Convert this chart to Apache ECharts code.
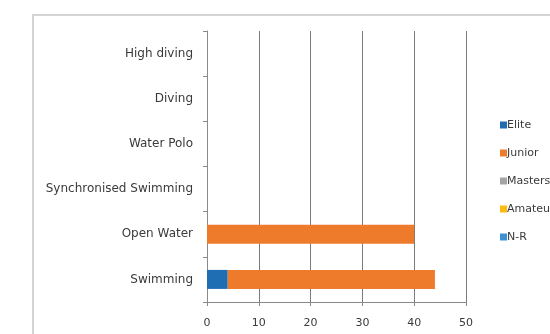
<!DOCTYPE html>
<html><head><meta charset="utf-8">
<script src="https://cdn.jsdelivr.net/npm/echarts@6/dist/echarts.min.js"></script>
<style>html,body{margin:0;padding:0;background:#fff}#c{width:550px;height:334px}</style>
</head><body><div id="c"></div>
<script>
const categories = ["Swimming","Open Water","Synchronised Swimming","Water Polo","Diving","High diving"];
const elite   = [4, 0, 0, 0, 0, 0];
const junior  = [40, 40, 0, 0, 0, 0];
const masters = [0, 0, 0, 0, 0, 0];
const amateur = [0, 0, 0, 0, 0, 0];
const nr      = [0, 0, 0, 0, 0, 0];
const xTicks = [0, 10, 20, 30, 40, 50];

const names = ["Elite","Junior","Masters","Amateur","N-R"];
const colors = ["#1f6db3","#ee7a2c","#a5a5a5","#fdbb12","#3d92d6"];
const dataSets = [elite, junior, masters, amateur, nr];

const chart = echarts.init(document.getElementById('c'));
const font = {fontFamily:'"DejaVu Sans", sans-serif', fontSize:12, color:'#3a3a3a'};
chart.setOption({
  animation:false,
  graphic:[{type:'rect', shape:{x:33,y:15,width:560,height:360}, style:{fill:'none', stroke:'#d4d4d4', lineWidth:2}, z:-1}],
  grid:{left:207, right:84, top:31, bottom:32},
  legend:{orient:'vertical', left:495, top:113, itemWidth:7, itemHeight:7, itemGap:14,
    icon:'rect', textStyle:Object.assign({}, font, {fontSize:11, lineHeight:14, padding:[0,0,0,-5]}), data:names},
  xAxis:{type:'value', min:0, max:50, interval:10,
    axisLine:{show:true, lineStyle:{color:'#8a8a8a'}},
    axisTick:{show:true, length:4, lineStyle:{color:'#8a8a8a'}},
    axisLabel:Object.assign({}, font, {fontSize:11, margin:16, formatter:v=>xTicks.includes(v)?String(v):''}),
    splitLine:{show:true, lineStyle:{color:'#7a7a7a', width:1}}},
  yAxis:{type:'category', data:categories,
    axisLine:{show:true, lineStyle:{color:'#8a8a8a'}},
    axisTick:{show:true, length:4, lineStyle:{color:'#8a8a8a'}},
    axisLabel:Object.assign({}, font, {margin:14})},
  series: names.map((n,i)=>({name:n, type:'bar', stack:'a', data:dataSets[i], barWidth:19,
    itemStyle:{color:colors[i]}}))
});
</script></body></html>
